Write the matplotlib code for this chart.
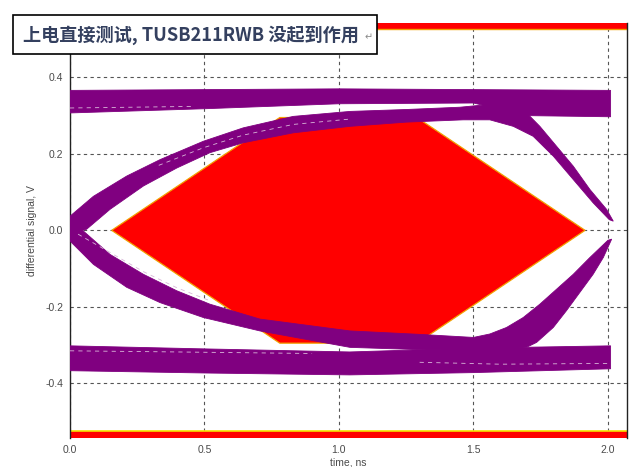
import matplotlib
matplotlib.use("Agg")
import matplotlib.pyplot as plt
from matplotlib.patches import Rectangle
import numpy as np

# ---------------- data ----------------
title_text = "上电直接测试, TUSB211RWB 没起到作用"
x_label = "time, ns"
y_label = "differential signal, V"
x_ticks = [0.0, 0.5, 1.0, 1.5, 2.0]
y_ticks = [-0.4, -0.2, 0.0, 0.2, 0.4]
x_limits = [0.0, 2.071]
y_limits = [-0.543, 0.543]

# eye mask (hexagon) and top / bottom forbidden bands
mask_t = [0.155, 0.78, 1.29, 1.915, 1.29, 0.78]
mask_v = [0.0, 0.295, 0.295, 0.0, -0.295, -0.295]
mask_top_v = [0.526, 0.543]
mask_bot_v = [-0.543, -0.526]

# "1" rail band
top_rail_hi_t = [0.0, 1.0, 2.01]
top_rail_hi_v = [0.366, 0.370, 0.366]
top_rail_lo_t = [0.0, 0.5, 1.0, 1.5, 1.7, 2.01]
top_rail_lo_v = [0.307, 0.318, 0.331, 0.333, 0.300, 0.297]

# "0" rail band
bot_rail_hi_t = [0.0, 0.5, 1.04, 1.5, 2.01]
bot_rail_hi_v = [-0.302, -0.310, -0.318, -0.308, -0.302]
bot_rail_lo_t = [0.0, 0.5, 1.04, 1.5, 2.01]
bot_rail_lo_v = [-0.367, -0.373, -0.378, -0.372, -0.362]

# upper transition band (rising from left crossing, falling into right crossing)
up_outer_t = [0.0, 0.087, 0.211, 0.335, 0.496, 0.644, 0.83, 1.041, 1.25, 1.45,
              1.60, 1.698, 1.747, 1.809, 1.871, 1.933, 1.995, 2.02]
up_outer_v = [0.037, 0.089, 0.142, 0.185, 0.233, 0.268, 0.298, 0.311, 0.316, 0.322,
              0.332, 0.307, 0.272, 0.220, 0.168, 0.107, 0.055, 0.024]
up_inner_t = [-0.005, 0.062, 0.149, 0.273, 0.397, 0.52, 0.644, 0.83, 1.041, 1.25,
              1.462, 1.561, 1.648, 1.722, 1.797, 1.871, 1.945, 2.005]
up_inner_v = [-0.012, 0.003, 0.055, 0.116, 0.163, 0.203, 0.229, 0.255, 0.272, 0.283,
              0.289, 0.289, 0.272, 0.246, 0.194, 0.133, 0.072, 0.028]

# lower transition band (falling from left crossing, rising into right crossing)
lo_outer_t = [0.0, 0.087, 0.211, 0.335, 0.496, 0.706, 1.041, 1.3, 1.6, 1.70,
              1.735, 1.797, 1.846, 1.896, 1.945, 1.983, 2.014]
lo_outer_v = [-0.028, -0.089, -0.149, -0.189, -0.228, -0.263, -0.306, -0.312, -0.312, -0.305,
              -0.293, -0.254, -0.210, -0.162, -0.115, -0.071, -0.023]
lo_inner_t = [-0.005, 0.05, 0.149, 0.273, 0.397, 0.52, 0.706, 1.041, 1.3, 1.5,
              1.561, 1.623, 1.685, 1.747, 1.809, 1.871, 1.933, 2.0]
lo_inner_v = [0.010, -0.002, -0.063, -0.115, -0.158, -0.193, -0.232, -0.263, -0.272, -0.280,
              -0.271, -0.254, -0.228, -0.193, -0.154, -0.115, -0.071, -0.026]

# a few light gaps between individual traces
gap_a_t = [0.0, 0.12, 0.45]
gap_a_v = [0.320, 0.321, 0.324]
gap_b_t = [0.0, 0.4, 0.9]
gap_b_v = [-0.315, -0.318, -0.322]
gap_c_t = [0.03, 0.149, 0.273, 0.397, 0.52]
gap_c_v = [-0.010, -0.058, -0.108, -0.150, -0.184]
gap_d_t = [0.33, 0.496, 0.644, 0.83, 1.041]
gap_d_v = [0.170, 0.216, 0.249, 0.277, 0.291]
gap_e_t = [1.30, 1.6, 2.0]
gap_e_v = [-0.345, -0.350, -0.348]

# ---------------- drawing ----------------
PURPLE = "#800080"
RED = "#ff0000"

fig = plt.figure(figsize=(6.39, 4.67), dpi=100)
W, H = 639, 467
ax = fig.add_axes([70 / W, (H - 438) / H, (627 - 70) / W, (438 - 22.7) / H])
ax.set_xlim(*x_limits)
ax.set_ylim(*y_limits)

tick_font = dict(family="Liberation Sans", size=7.5, color="#4a4a4a")
ax.set_xticks(x_ticks)
ax.set_yticks(y_ticks)
ax.set_xticklabels([f"{v:.1f}" for v in x_ticks], **tick_font)
ax.set_yticklabels([f"{v:.1f}" for v in y_ticks], **tick_font)
ax.tick_params(length=0, pad=5)
ax.grid(True, color="#555555", linestyle=(0, (3, 3)), linewidth=0.8)
ax.set_axisbelow(True)
for s in ["left", "right"]:
    ax.spines[s].set_color("#222222")
    ax.spines[s].set_linewidth(1.0)
for s in ["top", "bottom"]:
    ax.spines[s].set_visible(False)

ax.set_xlabel(x_label, family="Liberation Sans", size=7.5, color="#4a4a4a", labelpad=2)
ax.set_ylabel(y_label, family="Liberation Sans", size=7.5, color="#4a4a4a", labelpad=6)

# mask
ax.fill(mask_t, mask_v, facecolor=RED, edgecolor="#f2a000", linewidth=0.9, zorder=2)
ax.axhspan(mask_top_v[0], mask_top_v[1], facecolor=RED, edgecolor="none", zorder=2)
ax.axhspan(mask_bot_v[0], mask_bot_v[1], facecolor=RED, edgecolor="none", zorder=2)
ax.axhline(mask_top_v[0], color="#f2a000", linewidth=1.0, zorder=2.1)
ax.axhline(mask_bot_v[1], color="#f5e000", linewidth=1.2, zorder=2.1)


def band(t1, v1, t2, v2):
    ts = np.r_[np.asarray(t1), np.asarray(t2)[::-1]]
    vs = np.r_[np.asarray(v1), np.asarray(v2)[::-1]]
    ax.fill(ts, vs, facecolor=PURPLE, edgecolor=PURPLE, linewidth=0.6, zorder=3)


band(top_rail_hi_t, top_rail_hi_v, top_rail_lo_t, top_rail_lo_v)
band(bot_rail_hi_t, bot_rail_hi_v, bot_rail_lo_t, bot_rail_lo_v)
band(up_outer_t, up_outer_v, up_inner_t, up_inner_v)
band(lo_outer_t, lo_outer_v, lo_inner_t, lo_inner_v)

for gt, gv in [(gap_a_t, gap_a_v), (gap_b_t, gap_b_v), (gap_c_t, gap_c_v),
               (gap_d_t, gap_d_v), (gap_e_t, gap_e_v)]:
    ax.plot(gt, gv, color="#d9b8d9", linewidth=0.6, linestyle=(0, (5, 5)), zorder=3.5)

# title box
box = Rectangle((13 / W, 1 - 54 / H), (377 - 13) / W, (54 - 15) / H,
                transform=fig.transFigure, facecolor="white", edgecolor="black",
                linewidth=1.2, zorder=10)
fig.add_artist(box)
fig.text(23 / W, 1 - 35 / H, title_text, family=["Noto Sans CJK SC", "DejaVu Sans"],
         size=13.1, weight="bold", color="#34405f", ha="left", va="center", zorder=11)
fig.text(365 / W, 1 - 37 / H, "↵", family=["DejaVu Sans"], size=7,
         color="#8a8a8a", ha="left", va="center", zorder=11)

fig.savefig("out.png", dpi=100)
